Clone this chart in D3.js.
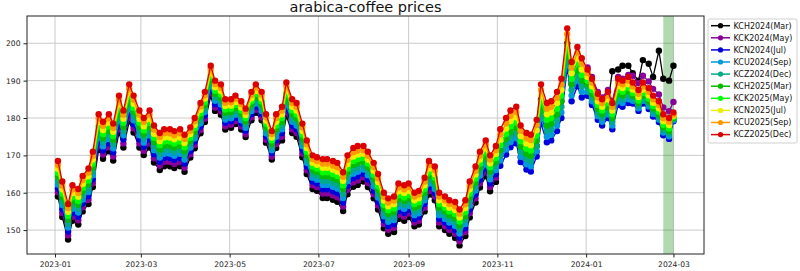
<!DOCTYPE html>
<html>
<head>
<meta charset="utf-8">
<script src="https://cdn.jsdelivr.net/npm/d3@7"></script>
<style>
body{margin:0;background:#fff;}
text{font-family:"DejaVu Sans",sans-serif;}
</style>
</head>
<body>
<div id="chart"></div>
<script>
// contracts, front month first
var contracts = ["KCH2024(Mar)","KCK2024(May)","KCN2024(Jul)","KCU2024(Sep)","KCZ2024(Dec)",
                 "KCH2025(Mar)","KCK2025(May)","KCN2025(Jul)","KCU2025(Sep)","KCZ2025(Dec)"];
var colors = ["#000000","#880099","#0000dd","#0099dd","#00aa88","#00bb00","#00ff00","#eeee00","#ff9900","#dd0000"];

// KCZ2025 closes, Tuesdays and Fridays from 2023-01-03 to 2024-03-01
var kcz2025 = [
  168.5,163, 157,162, 161,164.5, 166.5,171, 181,179, 181,178.5, 186,182, 189,186,
  182,180, 182,178, 176,177, 177,176.5, 177,175.5, 177.5,180, 184,187, 194,190,
  189,185, 185,186, 184.5,182.5, 187,189, 187,181, 176.5,181, 183,189.5, 185,184,
  178.5,174, 170,169.5, 169,169, 168.5,168, 165.5,170, 172,172.5, 172.5,171, 168,165,
  160,158.5, 159,162.5, 162,162.5, 160,160.5, 164,168.5, 167,160, 159,158, 157.5,155.5,
  158,163, 167,171, 174,170, 172.5,177, 180,182, 183,178, 176,175.5, 179.5,189,
  184,184.5, 187,190.5, 204,195, 199,196, 193,190.5, 186.5,185, 187,184, 190.5,190,
  191,189.5, 187.5,189.5, 188,186, 184.5,181, 180,181.5
];

// monthly spread of each contract below KCZ2025 (Jan 2023 .. Mar 2024)
var months = ["2023-01","2023-02","2023-03","2023-04","2023-05","2023-06","2023-07","2023-08",
              "2023-09","2023-10","2023-11","2023-12","2024-01","2024-02","2024-03"];
var spreadKCH24 = [9.5,9.9,9.9,8.1,7.6,9,10.4,9.5,9,9.6,7,4,null,null,null];
var spreadKCK24 = [8.4,8.8,8.8,7.2,6.8,8,9.2,8.4,8,8.5,8.5,6,-0.5,-1.8,-2.8];
var spreadKCN24 = [7.4,7.7,7.7,6.3,5.9,7,8.1,7.4,7,7.5,9.8,10.5,7,5.6,2.4];
var spreadKCU24 = [6.3,6.6,6.6,5.4,5.1,6,6.9,6.3,6,6.4,8.4,9,6,4.9,2.1];
var spreadKCZ24 = [5.3,5.5,5.5,4.5,4.2,5,5.8,5.3,5,5.3,7,7.5,5,4.2,1.8];
var spreadKCH25 = [4.2,4.4,4.4,3.6,3.4,4,4.6,4.2,4,4.3,5.6,6,4,3.5,1.5];
var spreadKCK25 = [3.2,3.3,3.3,2.7,2.5,3,3.5,3.2,3,3.2,4.2,4.5,3,2.8,1.2];
var spreadKCN25 = [2.1,2.2,2.2,1.8,1.7,2,2.3,2.1,2,2.1,2.8,3,2,1.9,0.9];
var spreadKCU25 = [1.1,1.1,1.1,0.9,0.8,1,1.2,1.1,1,1.1,1.4,1.5,1,1,0.6];

// KCH2024 closes from 2024-01-02 on (near expiry it trades above the curve)
var kch2024Late = [186,184, 181,180, 184,192.5, 193,194, 194,192, 190,195.5, 194.5,191, 198,190.5, 190,194];

var spanStart = new Date(2024,1,23), spanEnd = new Date(2024,2,1);
var yTicks = [150,160,170,180,190,200];

var spreads = [spreadKCH24,spreadKCK24,spreadKCN24,spreadKCU24,spreadKCZ24,
               spreadKCH25,spreadKCK25,spreadKCN25,spreadKCU25];

var width = 800, height = 271;
var plot = {l:27, r:704, t:16, b:254};

var dates = d3.timeDay.range(new Date(2023,0,3), new Date(2024,2,2))
    .filter(function(d){ return d.getDay()===2 || d.getDay()===5; });
var lateStart = dates.findIndex(function(d){ return d >= new Date(2024,0,1); });

var series = contracts.map(function(name, s){
    var vals = dates.map(function(d, i){
        if (s === 9) return kcz2025[i];
        if (s === 0 && i >= lateStart) return kch2024Late[i - lateStart];
        var m = (d.getFullYear()-2023)*12 + d.getMonth();
        return kcz2025[i] - spreads[s][m];
    });
    return {name:name, color:colors[s], values:vals};
});

var x = d3.scaleTime()
    .domain([new Date(2022,11,12,18), new Date(2024,2,22)])
    .range([plot.l, plot.r]);
var y = d3.scaleLinear()
    .domain([143.6, 207.3])
    .range([plot.b, plot.t]);

var svg = d3.select("#chart").append("svg")
    .attr("width", width)
    .attr("height", height);

// grid
var xTicks = d3.timeMonth.every(2).range(new Date(2023,0,1), new Date(2024,3,1));
svg.append("g").selectAll("line").data(xTicks).enter().append("line")
    .attr("x1", function(d){ return x(d); }).attr("x2", function(d){ return x(d); })
    .attr("y1", plot.t).attr("y2", plot.b)
    .style("stroke","#c4c4c4").style("stroke-width",0.9);
svg.append("g").selectAll("line").data(yTicks).enter().append("line")
    .attr("x1", plot.l).attr("x2", plot.r)
    .attr("y1", function(d){ return y(d); }).attr("y2", function(d){ return y(d); })
    .style("stroke","#c4c4c4").style("stroke-width",0.9);

// shaded span
svg.append("rect")
    .attr("x", x(spanStart))
    .attr("y", plot.t)
    .attr("width", x(spanEnd) - x(spanStart))
    .attr("height", plot.b - plot.t)
    .style("fill","#008000")
    .style("opacity",0.3);

// lines + markers, front month drawn first
var line = d3.line()
    .x(function(d, i){ return x(dates[i]); })
    .y(function(d){ return y(d); });

series.forEach(function(ser){
    var g = svg.append("g");
    g.append("path")
        .attr("d", line(ser.values))
        .style("fill","none")
        .style("stroke", ser.color)
        .style("stroke-width",1.3);
    g.selectAll("circle").data(ser.values).enter().append("circle")
        .attr("cx", function(d, i){ return x(dates[i]); })
        .attr("cy", function(d){ return y(d); })
        .attr("r", 3.2)
        .style("fill", ser.color);
});

// frame
svg.append("rect")
    .attr("x", plot.l).attr("y", plot.t)
    .attr("width", plot.r - plot.l).attr("height", plot.b - plot.t)
    .style("fill","none").style("stroke","#222").style("stroke-width",1);

// axes
var xAxis = d3.axisBottom(x).tickValues(xTicks).tickFormat(d3.timeFormat("%Y-%m")).tickSize(3.5).tickPadding(4);
var gx = svg.append("g").attr("transform","translate(0,"+plot.b+")").call(xAxis);
var yAxis = d3.axisLeft(y).tickValues(yTicks).tickSize(3.5).tickPadding(3);
var gy = svg.append("g").attr("transform","translate("+plot.l+",0)").call(yAxis);
[gx, gy].forEach(function(g){
    g.select(".domain").remove();
    g.selectAll("text").style("font-family","DejaVu Sans").style("font-size","7.6px").style("fill","#222");
    g.selectAll("line").style("stroke","#222");
});

// title
svg.append("text")
    .attr("x", (plot.l + plot.r)/2)
    .attr("y", 12)
    .attr("text-anchor","middle")
    .style("font-size","14.5px")
    .style("fill","#111")
    .text("arabica-coffee prices");

// legend
var legend = svg.append("g").attr("transform","translate(708,19)");
legend.append("rect")
    .attr("width", 89).attr("height", 124)
    .attr("rx", 2)
    .style("fill","#fff").style("stroke","#d0d0d0").style("stroke-width",1);
var rows = legend.selectAll("g.row").data(series).enter().append("g")
    .attr("class","row")
    .attr("transform", function(d, i){ return "translate(0,"+(6.7 + i*12.1)+")"; });
rows.append("line")
    .attr("x1", 3).attr("x2", 22)
    .style("stroke", function(d){ return d.color; })
    .style("stroke-width",1.5);
rows.append("circle")
    .attr("cx", 12.5).attr("r", 2.6)
    .style("fill", function(d){ return d.color; });
rows.append("text")
    .attr("x", 25.5)
    .attr("dy","0.35em")
    .style("font-size","8px")
    .style("fill","#111")
    .text(function(d){ return d.name; });
</script>
</body>
</html>
